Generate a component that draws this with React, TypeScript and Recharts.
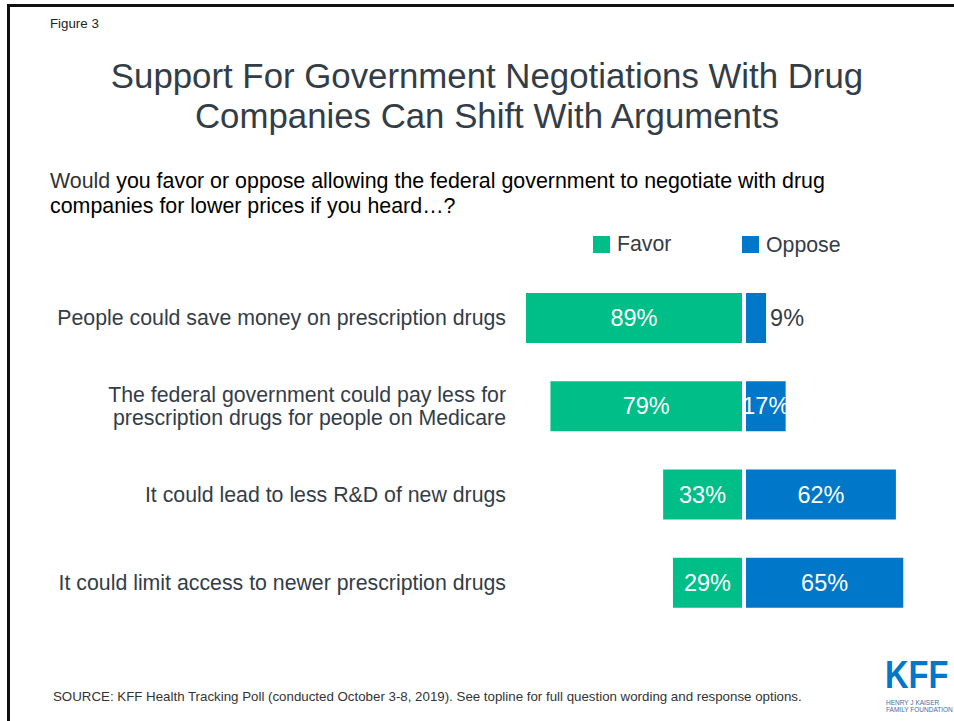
import React from "react";
import { BarChart, Bar, XAxis, YAxis, LabelList } from "recharts";

const categories = [
  "People could save money on prescription drugs",
  "The federal government could pay less for|prescription drugs for people on Medicare",
  "It could lead to less R&D of new drugs",
  "It could limit access to newer prescription drugs",
];
const favor = [89, 79, 33, 29];
const oppose = [9, 17, 62, 65];

const GREEN = "#00BE88";
const BLUE = "#0077C8";
const SLATE = "#333D47";
const FONT = "'Liberation Sans', Arial, sans-serif";

const chartData = categories.map((name, i) => ({
  name,
  favor: -favor[i],
  oppose: oppose[i],
}));

// bar with a 2px inset on the side touching zero, so the two halves have a gap
function makeShape(side: "left" | "right") {
  return (props: any) => {
    const { x, y, width, height, fill } = props;
    let left = Math.min(x, x + width);
    let right = Math.max(x, x + width);
    if (side === "left") right -= 2;
    else left += 2;
    return <rect x={left} y={y} width={Math.max(right - left, 0)} height={height} fill={fill} />;
  };
}

function CategoryTick(props: any) {
  const { x, y, payload } = props;
  const lines = String(payload.value).split("|");
  const lh = 23;
  const y0 = y - ((lines.length - 1) * lh) / 2;
  return (
    <text x={x} y={y0} textAnchor="end" dominantBaseline="central" fill={SLATE} fontSize={21.3} fontFamily={FONT}>
      {lines.map((l, i) => (
        <tspan key={i} x={x} y={y0 + i * lh} dominantBaseline="central">
          {l}
        </tspan>
      ))}
    </text>
  );
}

function FavorLabel(props: any) {
  const { x, y, width, height, value } = props;
  const left = Math.min(x, x + width);
  const w = Math.abs(width) - 2;
  return (
    <text x={left + w / 2} y={y + height / 2} textAnchor="middle" dominantBaseline="central" fill="#fff" fontSize={23.5} fontFamily={FONT}>
      {Math.abs(value)}%
    </text>
  );
}

function OpposeLabel(props: any) {
  const { x, y, width, height, value } = props;
  if (value < 10) {
    return (
      <text x={x + width + 4} y={y + height / 2} textAnchor="start" dominantBaseline="central" fill={SLATE} fontSize={23.5} fontFamily={FONT}>
        {value}%
      </text>
    );
  }
  return (
    <text x={x + 2 + (width - 2) / 2} y={y + height / 2} textAnchor="middle" dominantBaseline="central" fill="#fff" fontSize={23.5} fontFamily={FONT}>
      {value}%
    </text>
  );
}

export default function App() {
  return (
    <div style={{ position: "absolute", left: 0, top: 0, width: 954, height: 721, background: "#fff", fontFamily: FONT, overflow: "hidden" }}>
      {/* slide frame, top and left edges */}
      <div style={{ position: "absolute", left: 7, top: 4, width: 947, height: 3, background: "#111" }} />
      <div style={{ position: "absolute", left: 7, top: 4, width: 3, height: 717, background: "#111" }} />

      <div style={{ position: "absolute", left: 50, top: 16, fontSize: 13.3, color: "#222" }}>Figure 3</div>

      <div style={{ position: "absolute", left: 0, top: 56, width: 974, textAlign: "center", fontSize: 34.8, lineHeight: "40px", color: SLATE }}>
        Support For Government Negotiations With Drug
        <br />
        Companies Can Shift With Arguments
      </div>

      <div style={{ position: "absolute", left: 50, top: 169, width: 900, fontSize: 21.4, lineHeight: "25px", color: "#000" }}>
        <span style={{ color: "#333" }}>Would</span> you favor or oppose allowing the federal government to negotiate with drug
        <br />
        companies for lower prices if you heard…?
      </div>

      {/* legend */}
      <div style={{ position: "absolute", left: 593, top: 236, width: 17, height: 17, background: GREEN }} />
      <div style={{ position: "absolute", left: 617, top: 232, fontSize: 21.3, color: SLATE }}>Favor</div>
      <div style={{ position: "absolute", left: 742, top: 236, width: 17, height: 17, background: BLUE }} />
      <div style={{ position: "absolute", left: 766, top: 233, fontSize: 21.3, color: SLATE }}>Oppose</div>

      <div style={{ position: "absolute", left: 0, top: 274 }}>
        <BarChart
          width={954}
          height={353}
          data={chartData}
          layout="vertical"
          stackOffset="sign"
          barSize={50}
          margin={{ top: 0, right: 14, bottom: 0, left: 0 }}
        >
          <XAxis type="number" domain={[-100, 80]} hide />
          <YAxis type="category" dataKey="name" width={499} axisLine={false} tickLine={false} tickSize={0} tickMargin={-7} tick={<CategoryTick />} interval={0} />
          <Bar dataKey="favor" stackId="a" fill={GREEN} shape={makeShape("left")} isAnimationActive={false}>
            <LabelList dataKey="favor" content={<FavorLabel />} />
          </Bar>
          <Bar dataKey="oppose" stackId="a" fill={BLUE} shape={makeShape("right")} isAnimationActive={false}>
            <LabelList dataKey="oppose" content={<OpposeLabel />} />
          </Bar>
        </BarChart>
      </div>

      <div style={{ position: "absolute", left: 53, top: 689, fontSize: 13.3, color: "#333" }}>
        SOURCE: KFF Health Tracking Poll (conducted October 3-8, 2019). See topline for full question wording and response options.
      </div>

      {/* KFF mark */}
      <div style={{ position: "absolute", left: 885, top: 659, fontSize: 34, fontWeight: 700, lineHeight: "28px", height: 28, color: BLUE, transform: "scale(0.96, 1.12)", transformOrigin: "left top", whiteSpace: "nowrap" }}>
        KFF
      </div>
      <div style={{ position: "absolute", left: 886, top: 699, fontSize: 6.5, lineHeight: "7px", color: "#3a6fa5", whiteSpace: "nowrap" }}>
        HENRY J KAISER
        <br />
        FAMILY FOUNDATION
      </div>
    </div>
  );
}
